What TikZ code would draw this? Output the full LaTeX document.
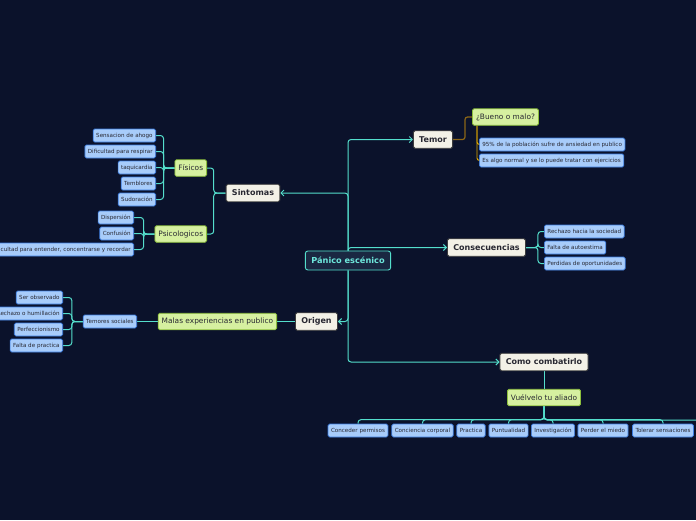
\documentclass[tikz,border=0pt]{standalone}
\usepackage{fontspec}
\setmainfont{DejaVu Sans}
\usetikzlibrary{arrows.meta,calc}
\pgfdeclarelayer{bgfill}
\pgfdeclarelayer{lines}
\pgfsetlayers{bgfill,lines,main}
\definecolor{bgc}{RGB}{11,18,43}
\definecolor{tealc}{RGB}{84,222,204}
\definecolor{rootfill}{RGB}{26,40,66}
\definecolor{roottext}{RGB}{110,232,220}
\definecolor{creamfill}{RGB}{243,241,231}
\definecolor{creamdraw}{RGB}{60,60,60}
\definecolor{greenfill}{RGB}{214,240,160}
\definecolor{greendraw}{RGB}{140,190,60}
\definecolor{bluefill}{RGB}{168,204,250}
\definecolor{bluedraw}{RGB}{60,125,225}
\definecolor{brownc}{RGB}{140,102,22}
\definecolor{goldc}{RGB}{225,170,0}
\definecolor{darktext}{RGB}{40,40,50}
\tikzset{
  rootbox/.style={draw=tealc, fill=rootfill, text=roottext, line width=0.9pt, rounded corners=2.5pt,
    font=\fontsize{8.2}{9}\selectfont\bfseries, minimum height=19, inner xsep=6},
  mainbox/.style={draw=creamdraw, fill=creamfill, text=darktext, line width=0.9pt, rounded corners=1.5pt,
    font=\fontsize{8}{9}\selectfont\bfseries, minimum height=17.5, inner xsep=5.8},
  greenbox/.style={draw=greendraw, fill=greenfill, text=darktext, line width=0.8pt, rounded corners=1.5pt,
    font=\fontsize{7.4}{8}\selectfont, minimum height=16.5, inner xsep=3.5},
  leafbox/.style={draw=bluedraw, fill=bluefill, text=darktext, line width=0.7pt, rounded corners=1.5pt,
    font=\fontsize{5.6}{6}\selectfont, minimum height=13, inner xsep=3},
  conn/.style={draw=tealc, line width=1pt, rounded corners=3pt},
  arr/.style={conn, -{Straight Barb[length=3pt,width=6pt]}},
  brownconn/.style={draw=brownc, line width=1.2pt, rounded corners=2.5pt},
  goldconn/.style={draw=goldc, line width=0.9pt, rounded corners=2.5pt},
}
\begin{document}
\begin{tikzpicture}[x=1pt,y=-1pt]
\begin{pgfonlayer}{bgfill}
\fill[bgc] (0,0) rectangle (696,520);
\end{pgfonlayer}
\useasboundingbox (0,0) rectangle (696,520);

% main nodes
\node[rootbox] (root) at (348,260.5) {Pánico escénico};
\node[mainbox] (temor) at (433,139.5) {Temor};
\node[mainbox] (sint) at (253,193) {Sintomas};
\node[mainbox] (cons) at (486.5,247.5) {Consecuencias};
\node[mainbox] (orig) at (316.5,321.5) {Origen};
\node[mainbox] (como) at (544,362) {Como combatirlo};

% green nodes
\node[greenbox] (bueno) at (505.5,117) {¿Bueno o malo?};
\node[greenbox, anchor=east] (fis) at (207,168) {Físicos};
\node[greenbox, anchor=east] (psi) at (207,234) {Psicologicos};
\node[greenbox, anchor=east] (malas) at (277,321.5) {Malas experiencias en publico};
\node[greenbox] (vuel) at (544,397.5) {Vuélvelo tu aliado};

% right leaves
\node[leafbox, anchor=west] (b1) at (479,144.5) {95\% de la población sufre de ansiedad en publico};
\node[leafbox, anchor=west] (b2) at (479,160.5) {Es algo normal y se lo puede tratar con ejercicios};
\node[leafbox, anchor=west] (c1) at (544,231.5) {Rechazo hacia la sociedad};
\node[leafbox, anchor=west] (c2) at (544,247.5) {Falta de autoestima};
\node[leafbox, anchor=west] (c3) at (544,263.5) {Perdidas de oportunidades};

% left leaves
\node[leafbox, anchor=east] (f1) at (156,135.5) {Sensacion de ahogo};
\node[leafbox, anchor=east] (f2) at (156,151.5) {Dificultad para respirar};
\node[leafbox, anchor=east] (f3) at (156,167.5) {taquicardia};
\node[leafbox, anchor=east] (f4) at (156,183.5) {Temblores};
\node[leafbox, anchor=east] (f5) at (156,199.5) {Sudoración};
\node[leafbox, anchor=east] (p1) at (134,217.5) {Dispersión};
\node[leafbox, anchor=east] (p2) at (134,233.5) {Confusión};
\node[leafbox, anchor=east] (p3) at (134,249.5) {Dificultad para entender, concentrarse y recordar};
\node[leafbox, anchor=east] (ts) at (137,321.5) {Temores sociales};
\node[leafbox, anchor=east] (t1) at (63,297.5) {Ser observado};
\node[leafbox, anchor=east] (t2) at (63,313.5) {Rechazo o humillación};
\node[leafbox, anchor=east] (t3) at (63,329.5) {Perfeccionismo};
\node[leafbox, anchor=east] (t4) at (63,345.5) {Falta de practica};

% bottom leaves
\node[leafbox] (v1) at (358,430.5) {Conceder permisos};
\node[leafbox] (v2) at (422.5,430.5) {Conciencia corporal};
\node[leafbox] (v3) at (471,430.5) {Practica};
\node[leafbox] (v4) at (508.5,430.5) {Puntualidad};
\node[leafbox] (v5) at (553,430.5) {Investigación};
\node[leafbox] (v6) at (603,430.5) {Perder el miedo};
\node[leafbox] (v7) at (663,430.5) {Tolerar sensaciones};
\coordinate (barend) at (696,420);

\begin{pgfonlayer}{lines}
% trunk connectors
\draw[arr] (root.north) |- (temor.west);
\draw[arr] (root.north) |- (sint.east);
\draw[arr] (root.north) |- (cons.west);
\draw[arr] (root.south) |- (orig.east);
\draw[arr] (root.south) |- (como.west);

% Temor branch
\draw[brownconn] (temor.east) -- ++(12,0) |- (bueno.west);
\draw[goldconn] (bueno.south -| 477,0) |- (b1.west);
\draw[goldconn] (bueno.south -| 477,0) |- (b2.west);

% Consecuencias
\foreach \n in {c1,c2,c3}{\draw[conn] (cons.east) -- ++(12,0) |- (\n.west);}

% Sintomas
\foreach \n in {fis,psi}{\draw[conn] (sint.west) -- ++(-12,0) |- (\n.east);}
\foreach \n in {f1,f2,f3,f4,f5}{\draw[conn] (fis.west) -- ++(-11,0) |- (\n.east);}
\foreach \n in {p1,p2,p3}{\draw[conn] (psi.west) -- ++(-11,0) |- (\n.east);}

% Origen
\draw[conn] (orig.west) -- (malas.east);
\draw[conn] (malas.west) -- (ts.east);
\foreach \n in {t1,t2,t3,t4}{\draw[conn] (ts.west) -- ++(-11,0) |- (\n.east);}

% Como combatirlo
\draw[conn] (como.south) -- (vuel.north);
\foreach \n in {v1,v2,v3,v4,v5,v6,v7}{\draw[conn] (vuel.south) |- ($(\n.north)+(0,-4)$) -- (\n.north);}
\draw[conn] (vuel.south) |- (barend);
\end{pgfonlayer}
\end{tikzpicture}
\end{document}
